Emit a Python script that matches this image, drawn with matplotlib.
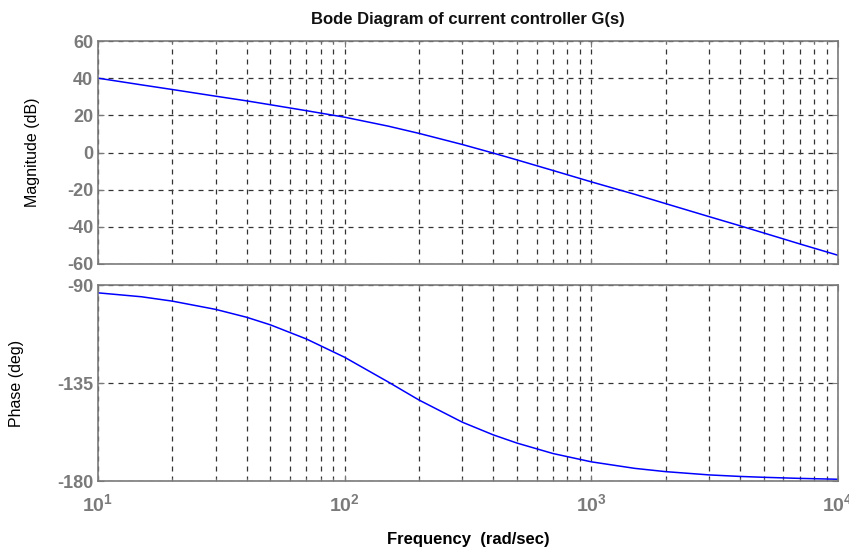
import numpy as np
import matplotlib.pyplot as plt
from matplotlib.ticker import LogLocator, NullFormatter

plt.rcParams['font.family'] = ['Liberation Sans', 'DejaVu Sans']
plt.rcParams['axes.unicode_minus'] = False

# Frequencies (rad/sec)
freq = [10, 15, 20, 30, 40, 50, 70, 100, 150, 200, 300, 400, 500, 700,
        1000, 1500, 2000, 3000, 4000, 5000, 7000, 10000]
# Magnitude (dB)
mag = [40.0, 36.4, 33.9, 30.3, 27.8, 25.7, 22.5, 19.0, 14.2, 10.3, 4.3,
       -0.3, -4.0, -9.7, -15.8, -22.5, -27.5, -34.5, -39.4, -43.3, -49.2, -55.3]
# Phase (deg)
phase = [-93.6, -95.4, -97.4, -101.2, -104.8, -108.3, -114.8, -123.2,
         -134.5, -142.8, -153.0, -158.8, -162.6, -167.4, -171.2, -174.2,
         -175.7, -177.2, -177.9, -178.3, -178.8, -179.2]

fig = plt.figure(figsize=(8.49, 5.47), dpi=100)
ax1 = fig.add_axes([98/849, 1-264/547, 740/849, 223/547])
ax2 = fig.add_axes([98/849, 1-481/547, 740/849, 196/547])

gray = '#7a7a7a'
for ax in (ax1, ax2):
    ax.set_xscale('log')
    ax.set_xlim(10, 1e4)
    ax.xaxis.set_major_locator(LogLocator(base=10))
    ax.xaxis.set_minor_locator(LogLocator(base=10, subs=np.arange(2, 10)))
    ax.xaxis.set_minor_formatter(NullFormatter())
    ax.grid(True, which='major', linestyle=(0, (4, 4)), color='#333333', linewidth=0.9)
    ax.grid(True, which='minor', axis='x', linestyle=(0, (4, 4)), color='#333333', linewidth=0.9)
    ax.tick_params(which='both', direction='in', length=4, color=gray,
                   labelcolor=gray, labelsize=13, top=True, right=True)
    ax.tick_params(which='minor', length=2)
    for s in ax.spines.values():
        s.set_color(gray)
        s.set_linewidth(1.2)

ax1.plot(freq, mag, color='#0000ff', linewidth=1.1)
ax1.set_ylim(-60, 60)
ax1.set_yticks([-60, -40, -20, 0, 20, 40, 60])
ax1.set_xticklabels([])
ax1.set_ylabel('Magnitude (dB)', fontsize=11.5, labelpad=19)
ax1.set_title('Bode Diagram of current controller G(s)', fontsize=12,
              fontweight='bold', color='#111111', pad=12)

ax2.plot(freq, phase, color='#0000ff', linewidth=1.1)
ax2.set_ylim(-180, -90)
ax2.set_yticks([-180, -135, -90])
ax2.set_ylabel('Phase (deg)', fontsize=11.5, labelpad=24)
ax2.set_xlabel('Frequency  (rad/sec)', fontsize=12, fontweight='bold', labelpad=12)
ax2.tick_params(axis='x', labelsize=14, pad=9)
for ax in (ax1, ax2):
    for lab in ax.get_yticklabels() + ax.get_xticklabels():
        lab.set_fontweight('bold')

fig.savefig('out.png', dpi=100)
